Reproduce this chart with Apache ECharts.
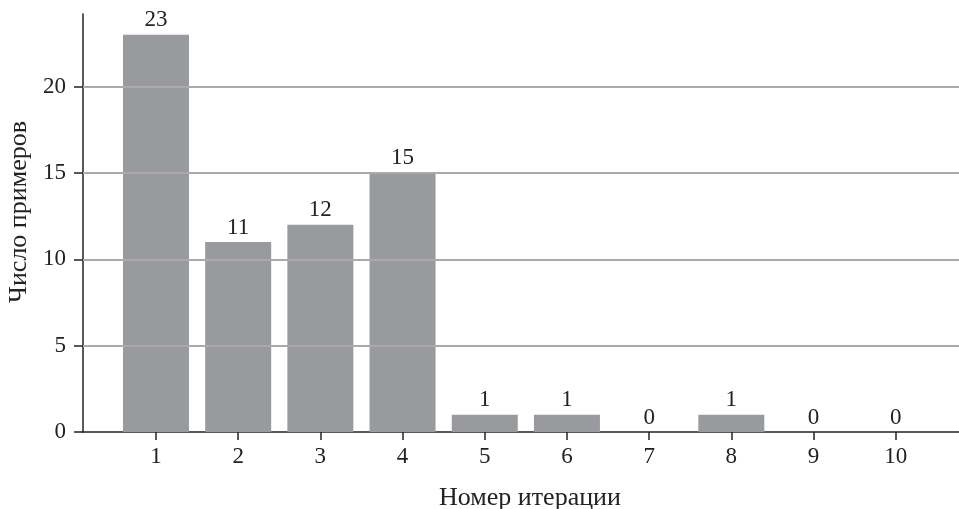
<!DOCTYPE html>
<html>
<head>
<meta charset="utf-8">
<script src="https://cdn.jsdelivr.net/npm/echarts@6/dist/echarts.min.js"></script>
<style>
  html, body { margin: 0; padding: 0; background: #fff; }
  #chart { width: 959px; height: 509px; }
</style>
</head>
<body>
<div id="chart"></div>
<script>
var iterations = [1, 2, 3, 4, 5, 6, 7, 8, 9, 10];
var counts = [23, 11, 12, 15, 1, 1, 0, 1, 0, 0];
var yTicks = [0, 5, 10, 15, 20];
var gridValues = [5, 10, 15, 20];

var myChart = echarts.init(document.getElementById('chart'));
var font = "'Liberation Serif', 'Times New Roman', serif";

var barData = [];
for (var i = 0; i < iterations.length; i++) {
    barData.push([iterations[i], counts[i]]);
}

var gridLines = gridValues.map(function (v) {
    return { yAxis: v };
});

var option = {
    backgroundColor: '#fff',
    animation: false,
    grid: { left: 83, right: 0, top: 14, bottom: 77, outerBoundsMode: 'none', containLabel: false },
    xAxis: {
        type: 'value',
        min: 0.112,
        max: 10.77,
        name: 'Номер итерации',
        nameLocation: 'middle',
        nameGap: 53,
        nameTextStyle: { fontFamily: font, fontSize: 26, color: '#222', padding: [0, 0, 0, 18] },
        axisLine: { show: true, lineStyle: { color: '#222', width: 1.5 } },
        axisTick: { show: true, length: 8, customValues: iterations, lineStyle: { color: '#222', width: 1.5 } },
        axisLabel: { customValues: iterations, margin: 13, fontFamily: font, fontSize: 23, color: '#222' },
        splitLine: { show: false }
    },
    yAxis: {
        type: 'value',
        min: 0,
        max: 24.2,
        name: 'Число примеров',
        nameLocation: 'middle',
        nameGap: 49,
        nameTextStyle: { fontFamily: font, fontSize: 26, color: '#222', padding: [0, 0, 0, 22] },
        axisLine: { show: true, lineStyle: { color: '#222', width: 1.5 } },
        axisTick: { show: true, length: 9, customValues: yTicks, lineStyle: { color: '#222', width: 1.5 } },
        axisLabel: { customValues: yTicks, margin: 17, fontFamily: font, fontSize: 23, color: '#222' },
        splitLine: { show: false }
    },
    series: [{
        type: 'line',
        data: [],
        z: 0,
        silent: true,
        markLine: {
            symbol: 'none',
            silent: true,
            label: { show: false },
            lineStyle: { color: '#aaaaaa', width: 2, type: 'solid' },
            data: gridLines
        }
    }, {
        type: 'bar',
        z: 2,
        barWidth: 66,
        data: barData,
        itemStyle: { color: '#999a9e' },
        label: {
            show: true,
            position: 'top',
            distance: 3,
            fontFamily: font,
            fontSize: 23,
            color: '#222'
        }
    }]
};
myChart.setOption(option);
</script>
</body>
</html>
